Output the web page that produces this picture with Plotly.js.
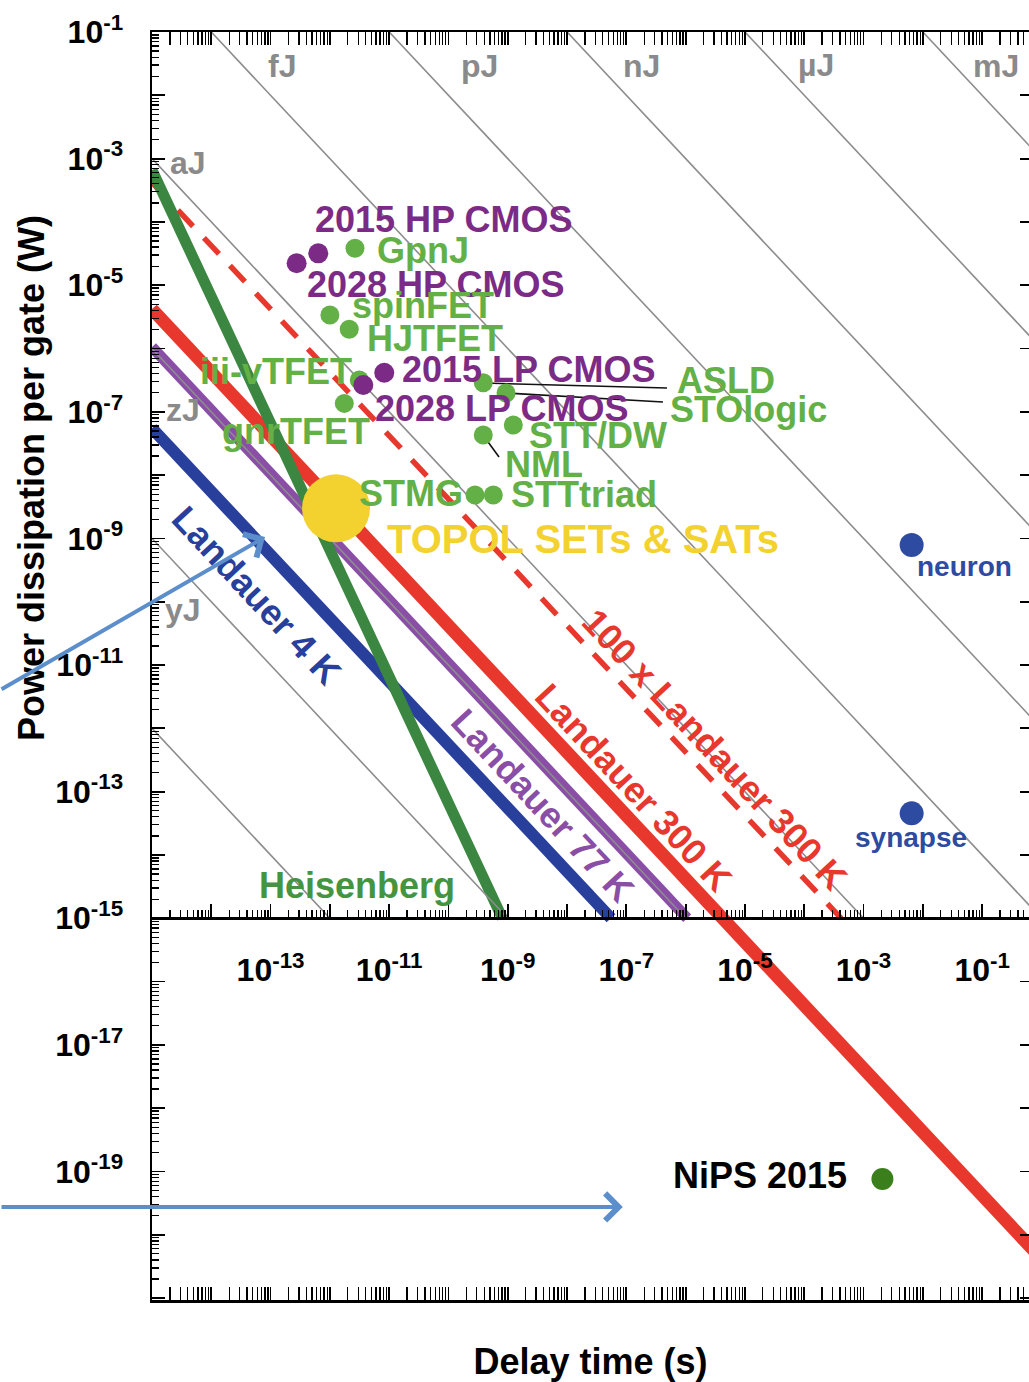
<!DOCTYPE html>
<html><head><meta charset="utf-8">
<script src="https://cdn.plot.ly/plotly-3.0.1.min.js"></script>
<style>html,body{margin:0;padding:0;background:#fff;}#chart{width:1029px;height:1382px;}</style>
</head><body><div id="chart"></div>
<script>
// ---------- data ----------
const cmosNames = ['2015 HP CMOS', '2028 HP CMOS', '2028 LP CMOS', '2015 LP CMOS'];
const cmosDelay = [2.75e-13, 6.37e-13, 3.66e-12, 8.26e-12];
const cmosPower = [2.22e-5, 3.19e-5, 2.65e-7, 4.15e-7];

const beyondNames = ['GpnJ', 'spinFET', 'HJTFET', 'III-V TFET', 'gnrTFET', 'ASLD', 'STOlogic', 'STT/DW', 'NML', 'STMG', 'STTtriad'];
const beyondDelay = [2.65e-12, 1.00e-12, 2.12e-12, 3.13e-12, 1.75e-12, 3.86e-10, 9.33e-10, 1.24e-9, 3.86e-10, 2.80e-10, 5.70e-10];
const beyondPower = [3.83e-5, 3.38e-6, 2.01e-6, 3.18e-7, 1.36e-7, 2.88e-7, 1.98e-7, 6.18e-8, 4.30e-8, 4.85e-9, 4.85e-9];

const bioNames = ['neuron', 'synapse'];
const bioDelay = [6.47e-3, 6.47e-3];
const bioPower = [7.87e-10, 4.54e-14];

const nipsDelay = [2.08e-3];
const nipsPower = [7.59e-20];

const topolDelay = [1.27e-12];
const topolPower = [2.99e-9];

// limit lines (end points)
const landauer300T = [1e-15, 1e0];
const landauer300P = [4.2e-6, 4.2e-21];
const landauer100xT = [1e-15, 4.2e-4];
const landauer100xP = [4.2e-4, 1e-15];
const landauer77T = [1e-15, 1.06e-6];
const landauer77P = [1.06e-6, 1e-15];
const landauer4T = [1e-15, 5.5e-8];
const landauer4P = [5.5e-8, 1e-15];
const heisenbergT = [1e-15, 8.1e-10];
const heisenbergP = [6.6e-4, 1.0e-15];

// constant-energy guide lines (start / end points)
const isoStartT = [1e-15, 1e-15, 1e-15, 1e-15, 1e-14, 1e-11, 1e-8, 1e-5, 1e-2];
const isoStartP = [1e-12, 1e-9, 1e-6, 1e-3, 1e-1, 1e-1, 1e-1, 1e-1, 1e-1];
const isoEndT = [1e-12, 1e-9, 1e-6, 1e-3, 1e0, 1e0, 1e0, 1e0, 1e0];
const isoEndP = [1e-15, 1e-15, 1e-15, 1e-15, 1e-15, 1e-12, 1e-9, 1e-6, 1e-3];

// leader lines: label -> dot
const leaderNames = ['ASLD', 'STOlogic', 'NML'];
const leaderT0 = [3.82e-10, 9.68e-10, 3.82e-10];
const leaderP0 = [2.85e-7, 1.98e-7, 4.30e-8];
const leaderT1 = [4.84e-7, 4.14e-7, 7.11e-10];
const leaderP1 = [2.38e-7, 1.43e-7, 1.93e-8];

// ticks
const xTickVals = [1e-15, 1e-14, 1e-13, 1e-12, 1e-11, 1e-10, 1e-9, 1e-8, 1e-7, 1e-6, 1e-5, 1e-4, 1e-3, 1e-2, 1e-1];
const xTickText = ['', '', '10<sup>-13</sup>', '', '10<sup>-11</sup>', '', '10<sup>-9</sup>', '', '10<sup>-7</sup>', '', '10<sup>-5</sup>', '', '10<sup>-3</sup>', '', '10<sup>-1</sup>'];
const yTickVals = [1e-21, 1e-20, 1e-19, 1e-18, 1e-17, 1e-16, 1e-15, 1e-14, 1e-13, 1e-12, 1e-11, 1e-10, 1e-9, 1e-8, 1e-7, 1e-6, 1e-5, 1e-4, 1e-3, 1e-2, 1e-1];
const yTickText = ['', '', '10<sup>-19</sup>', '', '10<sup>-17</sup>', '', '10<sup>-15</sup>', '', '10<sup>-13</sup>', '', '10<sup>-11</sup>', '', '10<sup>-9</sup>', '', '10<sup>-7</sup>', '', '10<sup>-5</sup>', '', '10<sup>-3</sup>', '', '10<sup>-1</sup>'];

// ---------- style ----------
const FONT = 'Liberation Sans, Arial, Helvetica, sans-serif';
const C = {
  red: '#e8382d', purple: '#8a4ea6', blue: '#283f9b', heis: '#3b8741',
  heisText: '#45943f', green: '#63b046', cmos: '#7b2b86', yellow: '#f3d22f',
  bio: '#2e4ba2', gray: '#8c8c8c', grayText: '#8a8a8a', nips: '#3b7f1d', arrow: '#5b8ecb'
};
const xRange = [-15, -0.21];
const yRange = [-21.03, -1];
const innerAxisPos = (-15 - yRange[0]) / (yRange[1] - yRange[0]);

const traces = [];
function line(t, p, color, width, dash) {
  traces.push({x: t, y: p, mode: 'lines', line: {color: color, width: width, dash: dash || 'solid'},
    hoverinfo: 'skip', showlegend: false});
}
line(landauer100xT, landauer100xP, C.red, 5.5, '22px,16px');
line(landauer300T, landauer300P, C.red, 13);
line(landauer77T, landauer77P, C.purple, 11);
line(landauer4T, landauer4P, C.blue, 12);
line(heisenbergT, heisenbergP, C.heis, 11);
for (let i = 0; i < isoStartT.length; i++) {
  line([isoStartT[i], isoEndT[i]], [isoStartP[i], isoEndP[i]], C.gray, 1.6);
}
for (let i = 0; i < leaderT0.length; i++) {
  line([leaderT0[i], leaderT1[i]], [leaderP0[i], leaderP1[i]], '#111111', 1.6);
}
function pts(t, p, names, color, size) {
  traces.push({x: t, y: p, text: names, mode: 'markers', marker: {color: color, size: size, line: {width: 0}},
    hoverinfo: 'text', showlegend: false});
}
pts(beyondDelay, beyondPower, beyondNames, C.green, 19);
pts(cmosDelay, cmosPower, cmosNames, C.cmos, 20);
pts(bioDelay, bioPower, bioNames, C.bio, 24);
pts(nipsDelay, nipsPower, ['NiPS 2015'], C.nips, 22);
pts(topolDelay, topolPower, ['TOPOL SETs & SATs'], C.yellow, 68);
// dummy traces to bind the extra axes (inner labelled time axis, right power axis)
traces.push({x: [1e-10], y: [1e-30], xaxis: 'x2', yaxis: 'y', mode: 'markers', marker: {opacity: 0},
  hoverinfo: 'skip', showlegend: false});
traces.push({x: [1e-10], y: [1e-30], xaxis: 'x', yaxis: 'y2', mode: 'markers', marker: {opacity: 0},
  hoverinfo: 'skip', showlegend: false});

// ---------- annotations ----------
const ann = [];
function lab(text, x, y, color, size, extra) {
  ann.push(Object.assign({text: '<b>' + text + '</b>', x: x, y: y, xref: 'x', yref: 'y', showarrow: false,
    xanchor: 'left', yanchor: 'middle', font: {family: FONT, size: size, color: color}}, extra || {}));
}
lab('2015 HP CMOS', -12.285, -3.962, C.cmos, 36);
lab('2028 HP CMOS', -12.420, -4.989, C.cmos, 36);
lab('2015 LP CMOS', -10.818, -6.324, C.cmos, 36);
lab('2028 LP CMOS', -11.273, -6.940, C.cmos, 36);
lab('GpnJ', -11.239, -4.452, C.green, 36);
lab('spinFET', -11.661, -5.321, C.green, 36);
lab('HJTFET', -11.408, -5.834, C.green, 36);
lab('iii-vTFET', -14.224, -6.355, C.green, 36);
lab('gnrTFET', -13.853, -7.303, C.green, 36);
lab('ASLD', -6.180, -6.498, C.green, 36);
lab('STOlogic', -6.298, -6.956, C.green, 36);
lab('STT/DW', -8.676, -7.367, C.green, 36);
lab('NML', -9.081, -7.825, C.green, 36);
lab('STTtriad', -8.980, -8.299, C.green, 36);
lab('STMG', -11.543, -8.283, C.green, 36);
lab('TOPOL SETs &amp; SATs', -11.071, -9.009, C.yellow, 40);
lab('Heisenberg', -13.229, -14.476, C.heisText, 36);
lab('neuron', -2.133, -9.436, C.bio, 28);
lab('synapse', -3.179, -13.717, C.bio, 28);
lab('NiPS 2015', -6.248, -19.057, '#000000', 36);
const mid = {xanchor: 'center'};
lab('fJ', -12.813, -1.537, C.grayText, 32, mid);
lab('pJ', -9.469, -1.537, C.grayText, 32, mid);
lab('nJ', -6.737, -1.537, C.grayText, 32, mid);
lab('µJ', -3.808, -1.52, C.grayText, 32, mid);
lab('mJ', -0.772, -1.537, C.grayText, 32, mid);
lab('aJ', -14.393, -3.070, C.grayText, 32, mid);
lab('zJ', -14.477, -6.972, C.grayText, 32, mid);
lab('yJ', -14.477, -10.131, C.grayText, 32, mid);
const rot = {xanchor: 'center', textangle: 47};
lab('100 x Landauer 300 K', -5.506, -12.327, C.red, 36, rot);
lab('Landauer 300 K', -6.872, -12.927, C.red, 36, rot);
lab('Landauer 77 K', -8.406, -13.212, C.purple, 36, rot);
lab('Landauer 4 K', -13.229, -9.894, C.blue, 36, rot);
// y-axis title (placed off-centre as in the reference)
ann.push({text: '<b>Power dissipation per gate (W)</b>', xref: 'paper', yref: 'paper', x: -0.1368, y: 0.6483,
  xanchor: 'center', yanchor: 'middle', textangle: -90, showarrow: false,
  font: {family: FONT, size: 36, color: '#000'}});
// pointer arrows
function arrow(x, y, ax, ay) {
  ann.push({text: '', x: x, y: y, xref: 'x', yref: 'y', ax: ax, ay: ay, showarrow: true,
    arrowhead: 4, arrowsize: 1.3, arrowwidth: 4, arrowcolor: C.arrow, standoff: 0, startstandoff: 0});
}
arrow(-13.094, -8.978, -265, 153);
arrow(-7.06, -19.56, -623, 0);

// ---------- layout ----------
const tickFont = {family: FONT, size: 32, color: '#000', weight: 'bold'};
const minorTicks = {dtick: 'D1', ticks: 'inside', ticklen: 7, tickwidth: 1.3, tickcolor: '#000', showgrid: false};
const layout = {
  width: 1029, height: 1382,
  margin: {l: 152, r: 0, t: 32, b: 82},
  paper_bgcolor: '#ffffff', plot_bgcolor: '#ffffff',
  showlegend: false,
  font: {family: FONT},
  xaxis: {
    type: 'log', range: xRange, showgrid: false, zeroline: false,
    showline: true, linecolor: '#000', linewidth: 2.5, mirror: 'allticks',
    ticks: 'inside', ticklen: 13, tickwidth: 1.8, tickcolor: '#000',
    tickmode: 'array', tickvals: xTickVals, showticklabels: false,
    minor: minorTicks,
    title: {text: '<b>Delay time (s)</b>', font: {family: FONT, size: 36, color: '#000'}, standoff: 48}
  },
  xaxis2: {
    type: 'log', range: xRange, overlaying: 'x', anchor: 'free', position: innerAxisPos, side: 'bottom',
    showgrid: false, zeroline: false, showline: true, linecolor: '#000', linewidth: 2.5,
    ticks: 'inside', ticklen: 13, tickwidth: 1.8, tickcolor: '#000',
    tickmode: 'array', tickvals: xTickVals, ticktext: xTickText, tickfont: tickFont, ticklabelstandoff: 23,
    minor: minorTicks
  },
  yaxis: {
    type: 'log', range: yRange, showgrid: false, zeroline: false,
    showline: true, linecolor: '#000', linewidth: 2.5,
    ticks: 'inside', ticklen: 13, tickwidth: 1.8, tickcolor: '#000',
    tickmode: 'array', tickvals: yTickVals, ticktext: yTickText, tickfont: tickFont, ticklabelstandoff: 20,
    minor: minorTicks
  },
  yaxis2: {
    type: 'log', range: yRange, overlaying: 'y', anchor: 'x', side: 'right',
    showgrid: false, zeroline: false, showline: true, linecolor: '#000', linewidth: 2.5,
    ticks: 'inside', ticklen: 9, tickwidth: 1.8, tickcolor: '#000',
    tickmode: 'array', tickvals: yTickVals, showticklabels: false
  },
  annotations: ann
};
Plotly.newPlot('chart', traces, layout, {displayModeBar: false, staticPlot: true});
</script>
</body></html>
